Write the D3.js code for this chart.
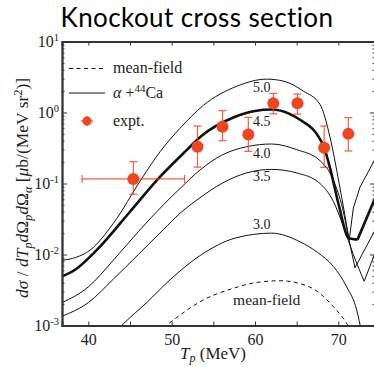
<!DOCTYPE html>
<html>
<head>
<meta charset="utf-8">
<script src="https://cdn.jsdelivr.net/npm/d3@7"></script>
<style>
  body { margin: 0; background: #fff; }
  svg { display: block; }
</style>
</head>
<body>
<div class="canvas"></div>
<script>
// theory curves: Tp (MeV) vs cross section (ub/(MeV sr^2))
const tp50 = [36.84, 38.5, 40.2, 43, 46.4, 48.6, 51, 53.8, 57.8, 61.4, 63.5, 65.8, 67.8, 69, 70.1, 70.8, 71.3, 71.8, 72.6, 74.4];
const xs50 = [0.0083, 0.0091, 0.0115, 0.0275, 0.117, 0.28, 0.60, 1.26, 2.34, 2.95, 2.75, 2.0, 1.3, 0.45, 0.10, 0.035, 0.0158, 0.045, 0.089, 0.22];
const tp45 = [36.84, 38.5, 41, 45, 48.4, 51.8, 53.6, 57.4, 60, 62, 64.2, 65.4, 67.4, 68.3, 69, 70.1, 71.25, 72.3, 74.4];
const xs45 = [0.0049, 0.0062, 0.0115, 0.040, 0.117, 0.295, 0.47, 0.85, 1.05, 1.10, 0.95, 0.79, 0.50, 0.32, 0.166, 0.047, 0.017, 0.0162, 0.062];
const tp40 = [36.84, 40, 43, 46, 49, 51, 53.4, 56, 59, 62, 65, 67.8, 69.4, 70.5, 71.3, 72, 74.4];
const xs40 = [0.0021, 0.0035, 0.0083, 0.021, 0.050, 0.085, 0.155, 0.25, 0.33, 0.36, 0.30, 0.21, 0.112, 0.045, 0.0158, 0.0065, 0.022];
const tp35 = [36.84, 40, 43, 46, 49, 51, 53.4, 56, 59, 62, 65, 67.8, 69.4, 70.6, 71.8, 73.1, 74.4];
const xs35 = [0.00135, 0.0021, 0.0045, 0.010, 0.0224, 0.038, 0.063, 0.10, 0.141, 0.158, 0.141, 0.10, 0.056, 0.025, 0.010, 0.0042, 0.0105];
const tp30 = [43.5, 44, 47, 49.8, 53.6, 57.6, 62, 65.4, 67.5, 69.4, 71, 72.2, 72.8];
const xs30 = [0.00087, 0.001, 0.0021, 0.0044, 0.010, 0.017, 0.020, 0.0151, 0.0107, 0.0068, 0.0035, 0.00166, 0.00079];
const tpMF = [49, 51, 53.4, 57.4, 60, 63, 66.6, 69.4, 71, 71.4];
const xsMF = [0.00093, 0.0014, 0.00216, 0.00334, 0.0040, 0.00427, 0.00347, 0.00184, 0.00107, 0.00089];

// experiment
const exptTp    = [45.4, 53.1, 56.1, 59.2, 62.2, 65.1, 68.3, 71.2];
const exptTpErr = [6.15, 0, 0, 0, 0, 0, 0, 0];
const exptVal   = [0.116, 0.33, 0.63, 0.49, 1.35, 1.35, 0.32, 0.50];
const exptLo    = [0.0705, 0.17, 0.40, 0.284, 0.96, 0.95, 0.169, 0.287];
const exptHi    = [0.203, 0.645, 1.06, 0.855, 1.86, 1.82, 0.645, 0.845];

const xTicks = [40, 50, 60, 70];
const yTicks = [-3, -2, -1, 0, 1];

const curveNames = ['5.0', '4.5', '4.0', '3.5', '3.0'];
const labelTp = [60.8, 60.8, 60.8, 60.8, 60.8];
const labelVal = [1.95, 0.645, 0.229, 0.108, 0.0229];

const width = 374, height = 367;
const margin = { top: 41.5, right: -1, bottom: 41.5, left: 62 };
const red = '#f0451f';
const serif = '"Liberation Serif", "Times New Roman", serif';

const svg = d3.select('.canvas')
  .append('svg')
  .attr('width', width)
  .attr('height', height);

const x = d3.scaleLinear().domain([36.84, 74.4]).range([margin.left, width - margin.right]);
const y = d3.scaleLog().domain([1e-3, 1e1]).range([height - margin.bottom, margin.top]);

svg.append('defs').append('clipPath').attr('id', 'plot')
  .append('rect')
  .attr('x', x.range()[0]).attr('y', y.range()[1])
  .attr('width', x.range()[1] - x.range()[0])
  .attr('height', y.range()[0] - y.range()[1]);

// title
svg.append('text')
  .attr('x', 197).attr('y', 27)
  .attr('text-anchor', 'middle')
  .style('font-family', 'Lato, "Open Sans", sans-serif')
  .style('font-size', '26px')
  .style('letter-spacing', '0.4px')
  .text('Knockout cross section');

const plot = svg.append('g').attr('clip-path', 'url(#plot)');

const smooth = d3.line().x(d => x(d[0])).y(d => y(d[1])).curve(d3.curveMonotoneX);
const straight = d3.line().x(d => x(d[0])).y(d => y(d[1]));

function drawCurve(tps, vals, opts) {
  const pts = tps.map((t, i) => [t, vals[i]]);
  // split at the dip so the minimum stays sharp
  let iMin = pts.length - 1;
  for (let i = 1; i < pts.length - 1; i++) {
    if (pts[i][0] > 66 && pts[i][1] < pts[i - 1][1] && pts[i][1] < pts[i + 1][1]) { iMin = i; break; }
  }
  [smooth(pts.slice(0, iMin + 1)), straight(pts.slice(iMin))].forEach(dd => {
    if (!dd) return;
    plot.append('path')
      .attr('d', dd)
      .attr('fill', 'none')
      .attr('stroke', '#111')
      .attr('stroke-width', opts.w)
      .attr('stroke-dasharray', opts.dash || null);
  });
}

drawCurve(tpMF, xsMF, { w: 1, dash: '4,3.5' });
drawCurve(tp30, xs30, { w: 1 });
drawCurve(tp35, xs35, { w: 1 });
drawCurve(tp40, xs40, { w: 1 });
drawCurve(tp50, xs50, { w: 1 });
drawCurve(tp45, xs45, { w: 2.6 });

// curve labels
curveNames.forEach((n, i) => {
  svg.append('text')
    .attr('x', x(labelTp[i])).attr('y', y(labelVal[i]))
    .attr('text-anchor', 'middle')
    .style('font-family', serif).style('font-size', '14px')
    .attr('fill', '#222')
    .text(n);
});
svg.append('text')
  .attr('x', x(61.4)).attr('y', y(0.00195))
  .attr('text-anchor', 'middle')
  .style('font-family', serif).style('font-size', '15.5px')
  .attr('fill', '#222')
  .text('mean-field');

// experimental points
const ex = plot.append('g');
exptTp.forEach((t, i) => {
  const cx = x(t), cy = y(exptVal[i]);
  ex.append('line').attr('x1', cx).attr('x2', cx)
    .attr('y1', y(exptLo[i])).attr('y2', y(exptHi[i]))
    .attr('stroke', red).attr('stroke-width', 1.2).attr('opacity', 0.85);
  [exptLo[i], exptHi[i]].forEach(v => {
    ex.append('line').attr('x1', cx - 4).attr('x2', cx + 4)
      .attr('y1', y(v)).attr('y2', y(v))
      .attr('stroke', red).attr('stroke-width', 1.2).attr('opacity', 0.85);
  });
  if (exptTpErr[i] > 0) {
    const x0 = x(t - exptTpErr[i]), x1 = x(t + exptTpErr[i]);
    ex.append('line').attr('x1', x0).attr('x2', x1).attr('y1', cy).attr('y2', cy)
      .attr('stroke', red).attr('stroke-width', 1.2).attr('opacity', 0.85);
    [x0, x1].forEach(xx => {
      ex.append('line').attr('x1', xx).attr('x2', xx).attr('y1', cy - 4).attr('y2', cy + 4)
        .attr('stroke', red).attr('stroke-width', 1.2).attr('opacity', 0.85);
    });
  }
  ex.append('circle').attr('cx', cx).attr('cy', cy).attr('r', 6).attr('fill', red);
});

// axes
const axisColor = '#333';
const xMinor = d3.range(40, 75, 5);
const gx = svg.append('g').attr('transform', `translate(0,${y.range()[0]})`)
  .call(d3.axisBottom(x).tickValues(xMinor).tickSize(-4).tickPadding(8)
    .tickFormat(d => xTicks.includes(d) ? d : ''));
const gxt = svg.append('g').attr('transform', `translate(0,${y.range()[1]})`)
  .call(d3.axisTop(x).tickValues(xMinor).tickSize(-4).tickFormat(''));

const yMajor = yTicks.map(e => Math.pow(10, e));
const yMinor = [];
yTicks.slice(0, -1).forEach(e => { for (let k = 2; k <= 9; k++) yMinor.push(k * Math.pow(10, e)); });

const gy = svg.append('g').attr('transform', `translate(${x.range()[0]},0)`)
  .call(d3.axisLeft(y).tickValues(yMajor).tickSize(-5).tickPadding(6).tickFormat(''));
const gyMinor = svg.append('g').attr('transform', `translate(${x.range()[0]},0)`)
  .call(d3.axisLeft(y).tickValues(yMinor).tickSize(-2.5).tickFormat(''));
const gy2 = svg.append('g').attr('transform', `translate(${x.range()[1]},0)`)
  .call(d3.axisRight(y).tickValues(yMajor).tickSize(-5).tickFormat(''));
const gy2Minor = svg.append('g').attr('transform', `translate(${x.range()[1]},0)`)
  .call(d3.axisRight(y).tickValues(yMinor).tickSize(-2.5).tickFormat(''));

[gx, gxt, gy, gyMinor, gy2, gy2Minor].forEach(g => {
  g.selectAll('path.domain').attr('stroke', axisColor).attr('stroke-width', 1.8);
  g.selectAll('.tick line').attr('stroke', axisColor).attr('stroke-width', 1);
});
gx.selectAll('.tick text')
  .style('font-family', serif).style('font-size', '16px').attr('fill', '#222');

// y tick labels as 10^n
yTicks.forEach(e => {
  const t = svg.append('text')
    .attr('x', x.range()[0] - 3).attr('y', y(Math.pow(10, e)) + 5)
    .attr('text-anchor', 'end')
    .style('font-family', serif).style('font-size', '16px').attr('fill', '#222');
  t.append('tspan').text('10');
  t.append('tspan').attr('dy', -6).style('font-size', '10.5px').text(e);
});

// axis titles
const xl = svg.append('text')
  .attr('x', 213).attr('y', 359)
  .attr('text-anchor', 'middle')
  .style('font-family', serif).style('font-size', '17px').attr('fill', '#222');
xl.append('tspan').style('font-style', 'italic').text('T');
xl.append('tspan').attr('dy', 3).style('font-style', 'italic').style('font-size', '12px').text('p');
xl.append('tspan').attr('dy', -3).text(' (MeV)');

const yl = svg.append('text')
  .attr('transform', 'translate(28,188) rotate(-90)')
  .attr('text-anchor', 'middle')
  .style('font-family', serif).style('font-size', '17.5px').attr('fill', '#222');
const part = (txt, o = {}) => {
  const s = yl.append('tspan').text(txt);
  if (o.i) s.style('font-style', 'italic');
  if (o.dy) s.attr('dy', o.dy);
  if (o.fs) s.style('font-size', o.fs);
  return s;
};
part('dσ', { i: 1 }); part(' / '); part('dT', { i: 1 });
part('p', { i: 1, dy: 4, fs: '12px' });
part('d', { i: 1, dy: -4 }); part('Ω'); part('p', { i: 1, dy: 4, fs: '12px' });
part('d', { i: 1, dy: -4 }); part('Ω'); part('α', { i: 1, dy: 4, fs: '12px' });
part(' [', { dy: -4 }); part('μ', { i: 1 }); part('b/(MeV sr'); part('2', { dy: -6, fs: '12px' });
part(')]', { dy: 6 });

// legend
const lg = svg.append('g');
lg.append('line').attr('x1', 69).attr('x2', 104).attr('y1', 68.5).attr('y2', 68.5)
  .attr('stroke', '#111').attr('stroke-dasharray', '4,3.5');
lg.append('line').attr('x1', 69).attr('x2', 105).attr('y1', 93).attr('y2', 93)
  .attr('stroke', '#111');
lg.append('line').attr('x1', 87).attr('x2', 87).attr('y1', 116).attr('y2', 126)
  .attr('stroke', red).attr('stroke-width', 1.2);
lg.append('line').attr('x1', 81).attr('x2', 93).attr('y1', 121).attr('y2', 121)
  .attr('stroke', red).attr('stroke-width', 1.2);
lg.append('circle').attr('cx', 87).attr('cy', 121).attr('r', 4.5).attr('fill', red);

const legendText = (yy) => lg.append('text').attr('x', 113).attr('y', yy)
  .style('font-family', serif).style('font-size', '16px').attr('fill', '#222');
legendText(73).text('mean-field');
const l2 = legendText(98);
l2.append('tspan').style('font-style', 'italic').text('α');
l2.append('tspan').text(' +');
l2.append('tspan').attr('dy', -6).style('font-size', '11px').text('44');
l2.append('tspan').attr('dy', 6).text('Ca');
legendText(126).text('expt.');
</script>
</body>
</html>
